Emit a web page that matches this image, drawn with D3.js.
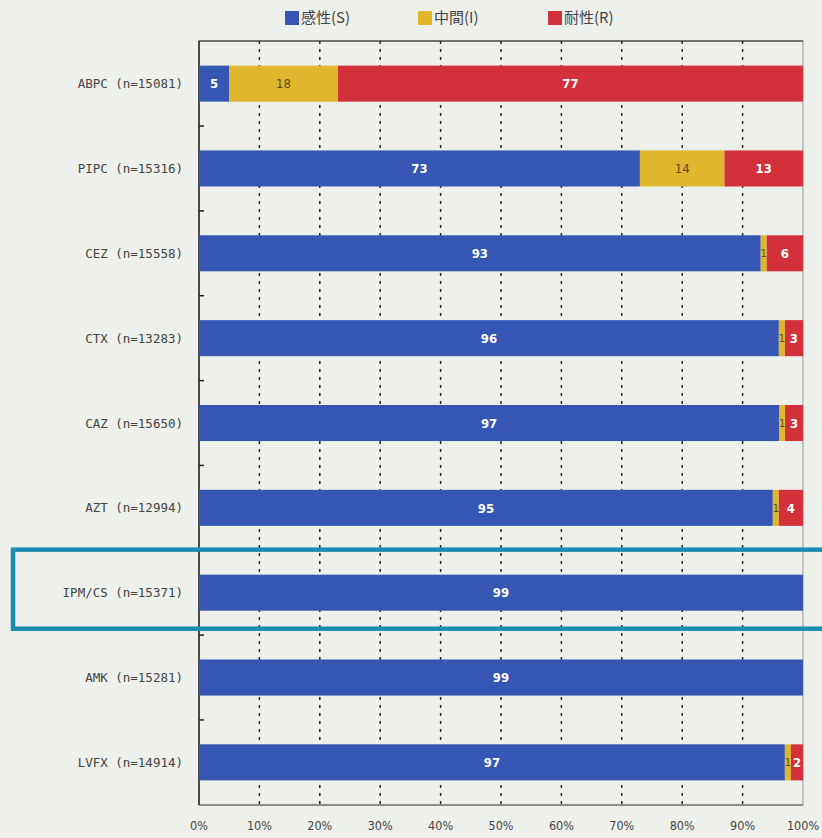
<!DOCTYPE html>
<html>
<head>
<meta charset="utf-8">
<script src="https://cdn.jsdelivr.net/npm/d3@7"></script>
<style>
  body { margin: 0; background: #eef0eb; }
  svg { display: block; }
</style>
</head>
<body>
<svg id="chart" width="822" height="838"></svg>
<script>
// data
const drugs = ['ABPC', 'PIPC', 'CEZ', 'CTX', 'CAZ', 'AZT', 'IPM/CS', 'AMK', 'LVFX'];
const counts = [15081, 15316, 15558, 13283, 15650, 12994, 15371, 15281, 14914];
const susceptible = [5, 73, 93, 96, 97, 95, 99, 99, 97];
const intermediate = [18, 14, 1, 1, 1, 1, 0, 0, 1];
const resistant = [77, 13, 6, 3, 3, 4, 0, 0, 2];
const seriesNames = ['感性(S)', '中間(I)', '耐性(R)'];
const seriesColors = ['#3556b3', '#e0b62c', '#d2313c'];
const tickLabels = ['0%', '10%', '20%', '30%', '40%', '50%', '60%', '70%', '80%', '90%', '100%'];

const svg = d3.select('#chart');
const margin = { left: 199, right: 19, top: 41, bottom: 33 };
const W = 822, H = 838;

const rows = drugs.map((d, i) => {
    const vals = [susceptible[i], intermediate[i], resistant[i]];
    const total = d3.sum(vals); //normalise so every bar fills 100%
    let acc = 0;
    const segs = vals.map((v, k) => {
        const s = { k: k, v: v, x0: acc / total * 100, x1: (acc + v) / total * 100 };
        acc += v;
        return s;
    });
    return { name: d, label: d + ' (n=' + counts[i] + ')', segs: segs };
});

const x = d3.scaleLinear().domain([0, 100]).range([margin.left, W - margin.right]);
const y = d3.scaleBand().domain(drugs).range([margin.top, H - margin.bottom]).paddingInner(0.575).paddingOuter(0.29);

// plot frame
svg.append('rect')
    .attr('x', x(0)).attr('y', margin.top)
    .attr('width', x(100) - x(0)).attr('height', H - margin.bottom - margin.top)
    .attr('fill', 'none').attr('stroke', '#999').attr('stroke-width', 1);
svg.append('line').attr('x1', x(0)).attr('x2', x(0)).attr('y1', margin.top).attr('y2', H - margin.bottom)
    .attr('stroke', '#222').attr('stroke-width', 1.5);
svg.append('line').attr('x1', x(0)).attr('x2', x(100)).attr('y1', margin.top).attr('y2', margin.top)
    .attr('stroke', '#222').attr('stroke-width', 1.2);
svg.append('line').attr('x1', x(0)).attr('x2', x(100)).attr('y1', H - margin.bottom).attr('y2', H - margin.bottom)
    .attr('stroke', '#555').attr('stroke-width', 1.2);

// dotted grid lines
svg.append('g').selectAll('line')
    .data(d3.range(10, 100, 10))
    .enter().append('line')
    .attr('x1', d => x(d)).attr('x2', d => x(d))
    .attr('y1', margin.top).attr('y2', H - margin.bottom)
    .attr('stroke', '#222').attr('stroke-width', 1.5)
    .attr('stroke-dasharray', '3,5');

// small ticks on the left axis between the bars
const step = y.step();
svg.append('g').selectAll('line')
    .data(drugs.slice(0, drugs.length - 1))
    .enter().append('line')
    .attr('x1', x(0)).attr('x2', x(0) + 5)
    .attr('y1', d => y(d) + y.bandwidth() / 2 + step / 2)
    .attr('y2', d => y(d) + y.bandwidth() / 2 + step / 2)
    .attr('stroke', '#222').attr('stroke-width', 1.5);

// bars
const rowG = svg.append('g').selectAll('g')
    .data(rows)
    .enter().append('g')
    .attr('transform', d => 'translate(0,' + y(d.name) + ')');

rowG.selectAll('rect')
    .data(d => d.segs.filter(s => s.v > 0))
    .enter().append('rect')
    .attr('x', s => x(s.x0))
    .attr('width', s => x(s.x1) - x(s.x0))
    .attr('y', 0)
    .attr('height', y.bandwidth())
    .attr('fill', s => seriesColors[s.k]);

rowG.selectAll('text.val')
    .data(d => d.segs.filter(s => s.v > 0))
    .enter().append('text')
    .attr('class', 'val')
    .attr('x', s => (x(s.x0) + x(s.x1)) / 2)
    .attr('y', y.bandwidth() / 2)
    .attr('dy', '0.36em')
    .attr('text-anchor', 'middle')
    .attr('font-family', '"DejaVu Sans Condensed", "DejaVu Sans", sans-serif')
    .attr('font-weight', s => s.k === 1 ? 'normal' : 'bold')
    .attr('font-size', s => (s.k === 1 && s.v < 3) ? 11 : 13)
    .attr('fill', s => s.k === 1 ? '#5a4a20' : '#fff')
    .text(s => s.v);

// category labels
svg.append('g').selectAll('text')
    .data(rows)
    .enter().append('text')
    .attr('x', 183)
    .attr('y', d => y(d.name) + y.bandwidth() / 2)
    .attr('dy', '0.36em')
    .attr('text-anchor', 'end')
    .attr('font-family', '"DejaVu Sans Mono", monospace')
    .attr('font-size', 12.5)
    .attr('fill', '#444')
    .text(d => d.label);

// x tick labels
svg.append('g').selectAll('text')
    .data(tickLabels)
    .enter().append('text')
    .attr('x', (d, i) => x(i * 10))
    .attr('y', 830)
    .attr('text-anchor', 'middle')
    .attr('font-family', '"DejaVu Sans Condensed", "DejaVu Sans", sans-serif')
    .attr('font-size', 12.5)
    .attr('fill', '#444')
    .text(d => d);

// legend
const legendX = [285, 418, 548];
const leg = svg.append('g').selectAll('g')
    .data(seriesNames)
    .enter().append('g')
    .attr('transform', (d, i) => 'translate(' + legendX[i] + ',11)');
leg.append('rect').attr('width', 14).attr('height', 14)
    .attr('fill', (d, i) => seriesColors[i]);
leg.append('text')
    .attr('x', 16).attr('y', 7).attr('dy', '0.36em')
    .attr('font-family', '"Noto Sans CJK JP", sans-serif')
    .attr('font-size', 15)
    .attr('fill', '#444')
    .text(d => d);

// highlight box around IPM/CS
svg.append('rect')
    .attr('x', 13)
    .attr('y', y('IPM/CS') - 25)
    .attr('width', 830)
    .attr('height', y.bandwidth() + 43)
    .attr('fill', 'none')
    .attr('stroke', '#1b8db0')
    .attr('stroke-width', 4.5);
</script>
</body>
</html>
